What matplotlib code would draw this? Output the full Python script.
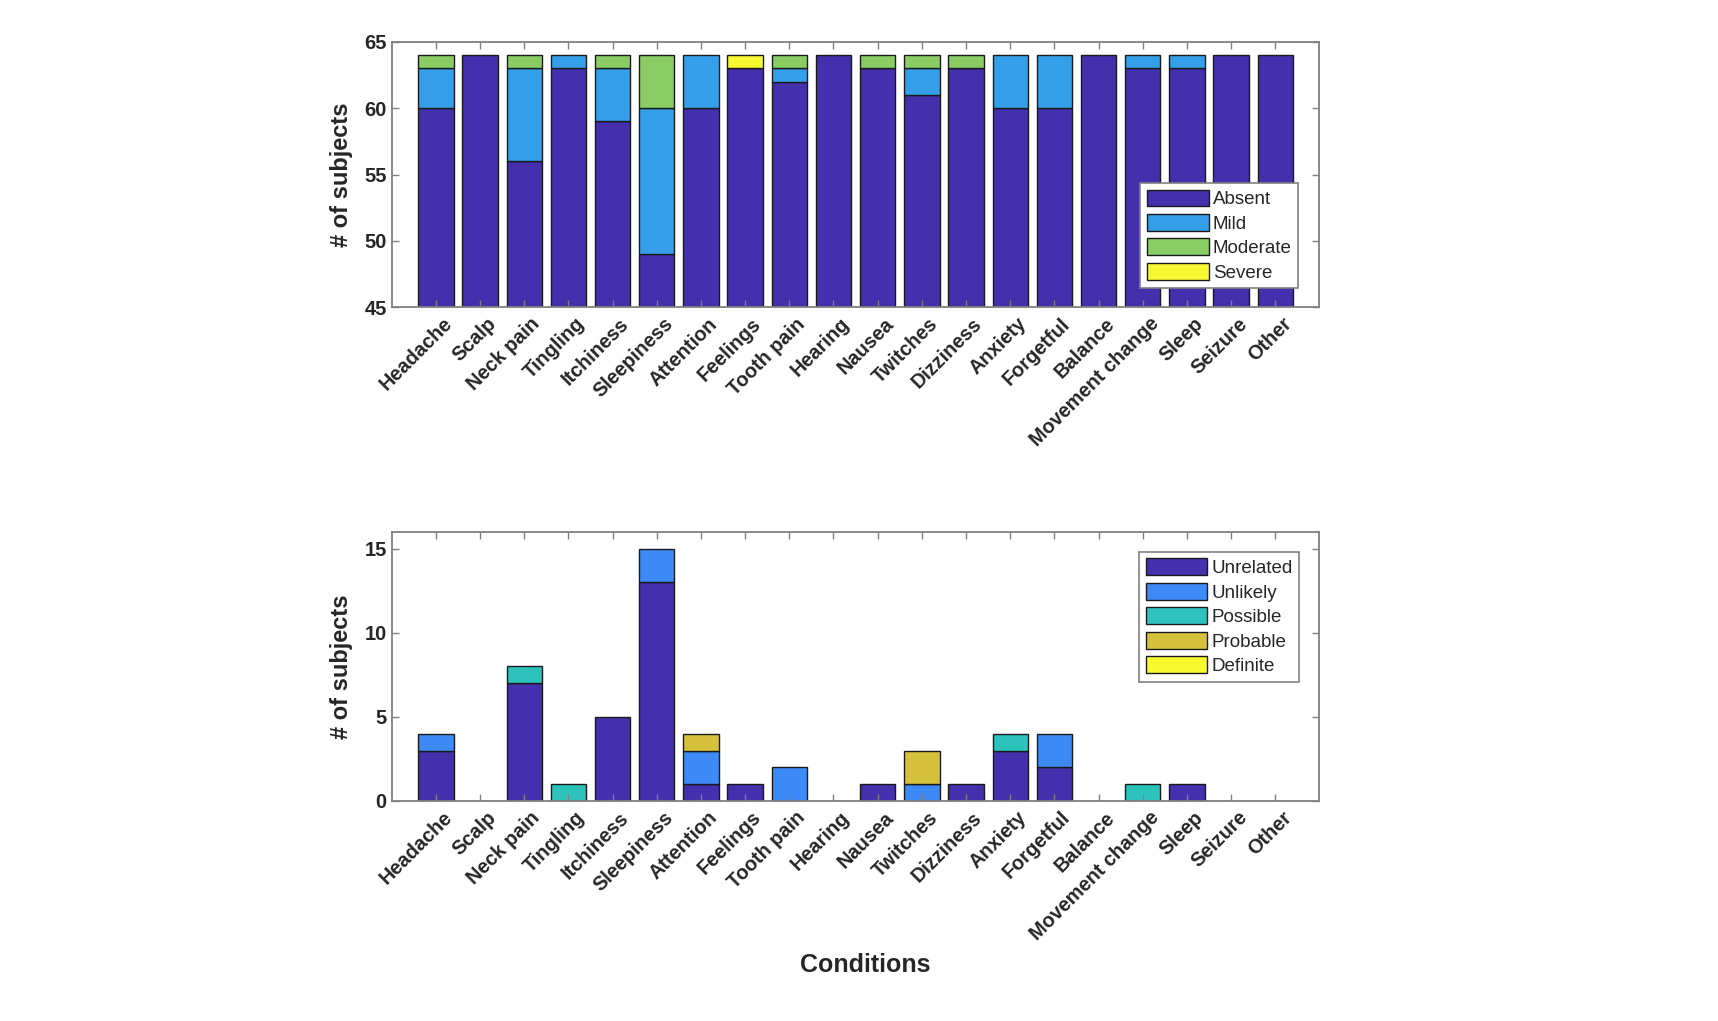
import matplotlib
matplotlib.use("Agg")
import matplotlib.pyplot as plt
import matplotlib.transforms as mtransforms
import numpy as np

categories = ["Headache", "Scalp", "Neck pain", "Tingling", "Itchiness", "Sleepiness",
              "Attention", "Feelings", "Tooth pain", "Hearing", "Nausea", "Twitches",
              "Dizziness", "Anxiety", "Forgetful", "Balance", "Movement change", "Sleep",
              "Seizure", "Other"]

# Top: severity
absent   = [60, 64, 56, 63, 59, 49, 60, 63, 62, 64, 63, 61, 63, 60, 60, 64, 63, 63, 64, 64]
mild     = [3, 0, 7, 1, 4, 11, 4, 0, 1, 0, 0, 2, 0, 4, 4, 0, 1, 1, 0, 0]
moderate = [1, 0, 1, 0, 1, 4, 0, 0, 1, 0, 1, 1, 1, 0, 0, 0, 0, 0, 0, 0]
severe   = [0, 0, 0, 0, 0, 0, 0, 1, 0, 0, 0, 0, 0, 0, 0, 0, 0, 0, 0, 0]
top_series = [absent, mild, moderate, severe]
top_labels = ["Absent", "Mild", "Moderate", "Severe"]
top_colors = ["#442fad", "#35a0e9", "#8acd65", "#f8f832"]

# Bottom: relatedness
unrelated = [3, 0, 7, 0, 5, 13, 1, 1, 0, 0, 1, 0, 1, 3, 2, 0, 0, 1, 0, 0]
unlikely  = [1, 0, 0, 0, 0, 2, 2, 0, 2, 0, 0, 1, 0, 0, 2, 0, 0, 0, 0, 0]
possible  = [0, 0, 1, 1, 0, 0, 0, 0, 0, 0, 0, 0, 0, 1, 0, 0, 1, 0, 0, 0]
probable  = [0, 0, 0, 0, 0, 0, 1, 0, 0, 0, 0, 2, 0, 0, 0, 0, 0, 0, 0, 0]
definite  = [0, 0, 0, 0, 0, 0, 0, 0, 0, 0, 0, 0, 0, 0, 0, 0, 0, 0, 0, 0]
bot_series = [unrelated, unlikely, possible, probable, definite]
bot_labels = ["Unrelated", "Unlikely", "Possible", "Probable", "Definite"]
bot_colors = ["#442fad", "#3d8af7", "#2dc3bc", "#d6c13d", "#f9fa2d"]

plt.rcParams['font.family'] = ['Liberation Sans', 'DejaVu Sans']
TXT = "#262626"
FRAME = "#808080"

fig = plt.figure(figsize=(17.18, 10.21), dpi=100)
ax1 = fig.add_axes([0.228, 0.699, 0.540, 0.260])
ax2 = fig.add_axes([0.228, 0.2155, 0.540, 0.2635])

x = np.arange(1, len(categories) + 1)

def stacked(ax, series, labels, colors):
    bottom = np.zeros(len(categories))
    for vals, lab, col in zip(series, labels, colors):
        v = np.array(vals, dtype=float)
        edges = ["#1a1a1a" if h > 0 else "none" for h in v]
        ax.bar(x, v, width=0.8, bottom=bottom, color=col, edgecolor=edges,
               linewidth=1.0, label=lab)
        bottom += v

def style(ax):
    ax.set_xlim(0, 21)
    ax.tick_params(direction='in', length=5, width=1, color=FRAME, top=True, right=True)
    ax.tick_params(axis='x', pad=12)
    ax.set_xticks(x)
    ax.set_xticklabels(categories, rotation=45, ha='right', va='center',
                       rotation_mode='anchor', fontsize=14.3, fontweight='bold', color=TXT)
    for lab in ax.get_yticklabels():
        lab.set_fontsize(14.5)
        lab.set_fontweight('bold')
        lab.set_color(TXT)
    for s in ax.spines.values():
        s.set_color(FRAME)
        s.set_linewidth(1.3)
    ax.set_ylabel("# of subjects", fontsize=17, fontweight='bold', color=TXT, labelpad=8)

def shift_xlabels(ax):
    offset = mtransforms.ScaledTranslation(13 / 100, 3 / 100, fig.dpi_scale_trans)
    for lab in ax.xaxis.get_majorticklabels():
        lab.set_transform(lab.get_transform() + offset)

def legend(ax, loc, anchor):
    leg = ax.legend(loc=loc, bbox_to_anchor=anchor, fontsize=13.5,
                    fancybox=False, edgecolor=FRAME, framealpha=1, handlelength=3.3,
                    handleheight=1.0, handletextpad=0.2, labelspacing=0.3,
                    borderpad=0.35, borderaxespad=0)
    for t in leg.get_texts():
        t.set_color(TXT)
    for h in leg.legend_handles:
        h.set_edgecolor("#1a1a1a")
    leg.get_frame().set_linewidth(1.2)
    return leg

stacked(ax1, top_series, top_labels, top_colors)
ax1.set_ylim(45, 65)
ax1.set_yticks([45, 50, 55, 60, 65])
style(ax1)
legend(ax1, 'lower right', (0.977, 0.072))

stacked(ax2, bot_series, bot_labels, bot_colors)
ax2.set_ylim(0, 16)
ax2.set_yticks([0, 5, 10, 15])
style(ax2)
ax2.set_xlabel("Conditions", fontsize=18, fontweight='bold', color=TXT)
ax2.xaxis.set_label_coords(0.51, -0.565)
legend(ax2, 'upper right', (0.978, 0.926))

shift_xlabels(ax1)
shift_xlabels(ax2)

fig.savefig("out.png", dpi=100, facecolor='white')
